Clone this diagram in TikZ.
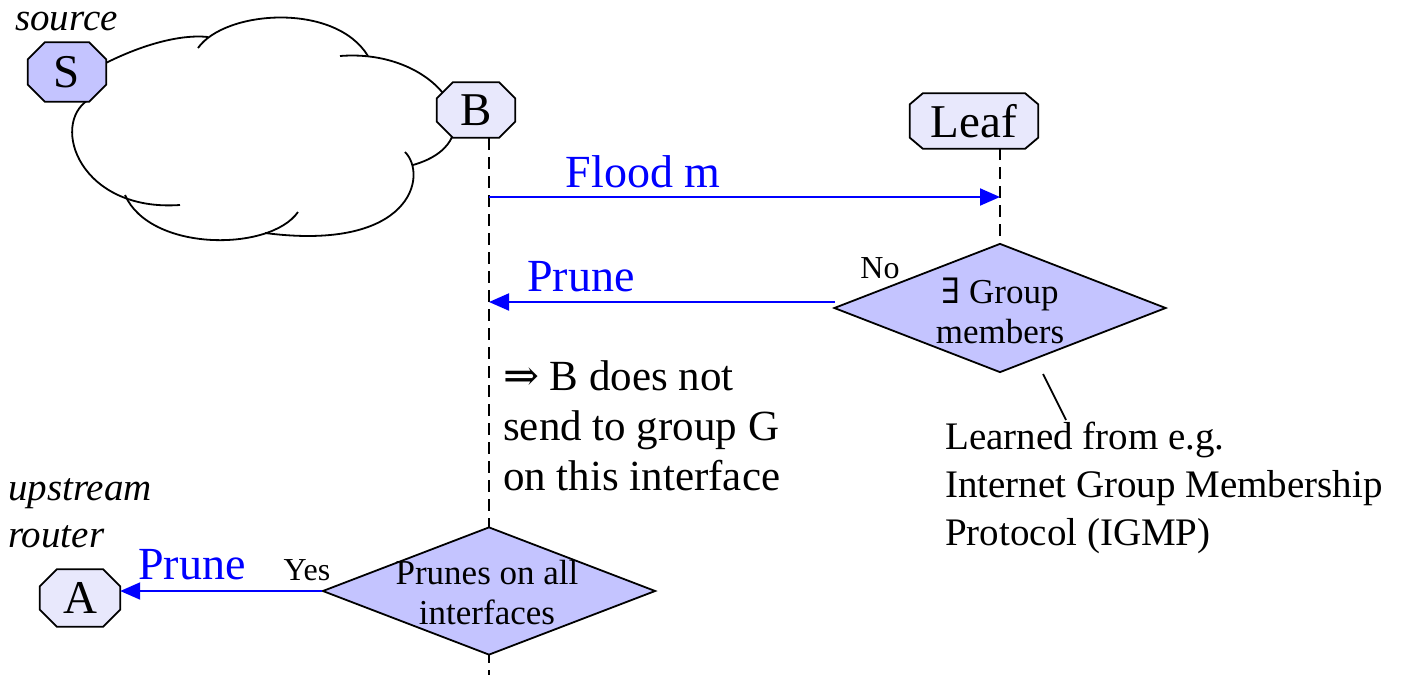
\documentclass[tikz,border=0pt]{standalone}
\usepackage{fontspec}
\setmainfont{Liberation Serif}
\newfontfamily\symbfont{DejaVu Serif}
\usetikzlibrary{shapes.geometric,arrows.meta,calc}
\definecolor{darkfill}{RGB}{196,196,255}
\definecolor{lightfill}{RGB}{232,232,252}
\definecolor{msgblue}{RGB}{0,0,255}
\newcommand\drawocto[4]{%
  \filldraw[fill=#4, draw=black, line width=1.8pt]
    ($(#1.north west)+(#2,0)$) -- ($(#1.north east)+(-#2,0)$) --
    ($(#1.north east)+(0,#3)$) -- ($(#1.south east)+(0,-#3)$) --
    ($(#1.south east)+(-#2,0)$) -- ($(#1.south west)+(#2,0)$) --
    ($(#1.south west)+(0,-#3)$) -- ($(#1.north west)+(0,#3)$) -- cycle;}
\begin{document}
\begin{tikzpicture}[x=1pt,y=-1pt,
  octobox/.style={rectangle, inner sep=0pt},
  octotext/.style={inner sep=0pt, font=\fontsize{47}{56}\selectfont},
  decide/.style={diamond, draw=black, line width=1.8pt, fill=darkfill, inner sep=0pt},
  decidetext/.style={inner sep=0pt, align=center, font=\fontsize{35}{40}\selectfont},
  lifeline/.style={line width=1.8pt, dash pattern=on 12pt off 7pt},
  cloudline/.style={line width=1.8pt},
  msg/.style={draw=msgblue, line width=2pt, -{Triangle[length=20pt,width=17pt]}},
  msglabel/.style={text=msgblue, inner sep=0pt, font=\fontsize{46}{52}\selectfont},
  small/.style={inner sep=0pt, font=\fontsize{32}{36}\selectfont},
  note/.style={inner sep=0pt, align=left, anchor=west},
  role/.style={inner sep=0pt, align=left, font=\fontsize{39}{47}\itshape\selectfont}]
\useasboundingbox (0,0) rectangle (1402,675);
% cloud (drawn as overlapping arcs)
\draw[cloudline] (100,66) .. controls (140,45) and (180,34) .. (208,37);
\draw[cloudline] (198,48) .. controls (225,10) and (335,2) .. (368,56);
\draw[cloudline] (340,56) .. controls (440,48) and (500,140) .. (413,165);
\draw[cloudline] (405,152) .. controls (428,175) and (412,252) .. (265,233);
\draw[cloudline] (298,212) .. controls (270,252) and (150,252) .. (125,195);
\draw[cloudline] (180,205) .. controls (80,212) and (50,125) .. (88,100);
% routers
\node[octobox, minimum width=78pt, minimum height=59pt] (S) at (67,72) {};
\drawocto{S}{17}{17}{darkfill}
\node[octotext] (Stxt) at (S) {S};
\node[octobox, minimum width=78pt, minimum height=55pt] (B) at (476,110) {};
\drawocto{B}{16}{16}{lightfill}
\node[octotext] (Btxt) at (B) {B};
\node[octobox, minimum width=128pt, minimum height=55pt] (L) at (974,121) {};
\drawocto{L}{13}{11}{lightfill}
\node[octotext] (Ltxt) at (L) {Leaf};
\node[octobox, minimum width=80pt, minimum height=57pt] (A) at (80,598) {};
\drawocto{A}{17}{17}{lightfill}
\node[octotext] (Atxt) at (A) {A};
\node[role, anchor=base west] (src) at (15,30) {source};
\node[role, anchor=west] (up) at (8,513) {upstream\\router};
% lifelines
\coordinate (Btop) at (489,138);
\coordinate (Bbot) at (489,675);
\coordinate (Ltop) at (1000,148);
\draw[lifeline] (Btop) -- (Bbot);
\node[decide, minimum width=332pt, minimum height=129pt] (G) at (1000,308) {};
\node[decidetext] (Gtxt) at (1000,311) {{\symbfont ∃} Group\\members};
\draw[lifeline] (Ltop) -- (G.north);
\node[decide, minimum width=333pt, minimum height=128pt] (P) at (489,591) {};
\node[decidetext] (Ptxt) at (487,593) {Prunes on all\\interfaces};
% messages
\coordinate (fb) at (489,197);
\coordinate (fl) at (1000,197);
\draw[msg] (fb) -- (fl);
\node[msglabel] (floodlbl) at (643,172) {Flood m};
\coordinate (pg) at (835,302);
\coordinate (pb) at (489,302);
\draw[msg] (pg) -- (pb);
\node[msglabel] (prunelbl) at (581,277) {Prune};
\draw[msg] (P.west) -- (P.west -| A.east);
\node[msglabel] (prunelbl2) at (192,565) {Prune};
\node[small] (no) at (880,268) {No};
\node[small] (yes) at (307,570) {Yes};
% notes
\node[note, font=\fontsize{43}{50}\selectfont] (imp) at (503,426) {{\symbfont ⇒} B does not\\send to group G\\on this interface};
\node[note, font=\fontsize{39}{48}\selectfont] (learn) at (945,488) {Learned from e.g.\\Internet Group Membership\\Protocol (IGMP)};
\coordinate (lk1) at (1043,374);
\coordinate (lk2) at (1066,420);
\draw[line width=1.8pt] (lk1) -- (lk2);
\end{tikzpicture}
\end{document}
